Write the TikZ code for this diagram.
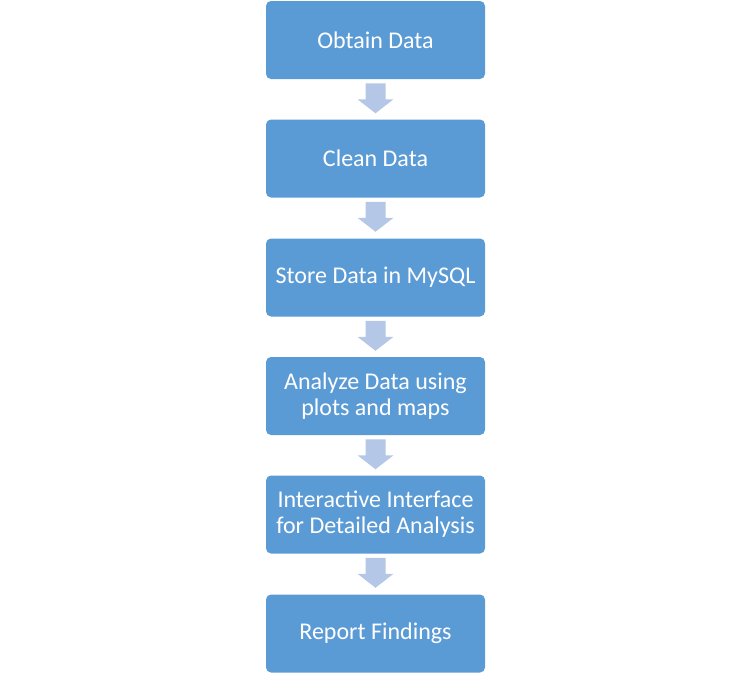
\documentclass[tikz,border=0pt]{standalone}
\usepackage{fontspec}
\setmainfont{Carlito}
\definecolor{boxblue}{HTML}{5B9BD5}
\definecolor{arrowblue}{HTML}{B4C7E7}
\begin{document}
\begin{tikzpicture}[x=0.75pt,y=-0.75pt,
  stepbox/.style={fill=boxblue, draw=none, rounded corners=3.75pt,
    minimum width=164.25pt, minimum height=58.5pt, inner sep=0pt,
    text=white, align=center, font=\fontsize{18}{19.5}\selectfont},
  flowarrow/.style={fill=arrowblue, draw=none}]
\useasboundingbox (0,0) rectangle (748,679);
\node[stepbox] (s1) at (375.5,40) {Obtain Data};
\node[stepbox] (s2) at (375.5,158.5) {Clean Data};
\node[stepbox] (s3) at (375.5,277.5) {Store Data in MySQL};
\node[stepbox] (s4) at (375.5,396) {Analyze Data using\\plots and maps};
\node[stepbox] (s5) at (375.5,514.5) {Interactive Interface\\for Detailed Analysis};
\node[stepbox] (s6) at (375.5,633.5) {Report Findings};
\foreach \a/\b in {s1/s2,s2/s3,s3/s4,s4/s5,s5/s6}{
  \begin{scope}[shift={(\a.south)}]
    \fill[flowarrow] (-10,4) -- (10,4) -- (10,20) -- (18,20) -- (0,34) -- (-18,20) -- (-10,20) -- cycle;
  \end{scope}
}
\end{tikzpicture}
\end{document}
